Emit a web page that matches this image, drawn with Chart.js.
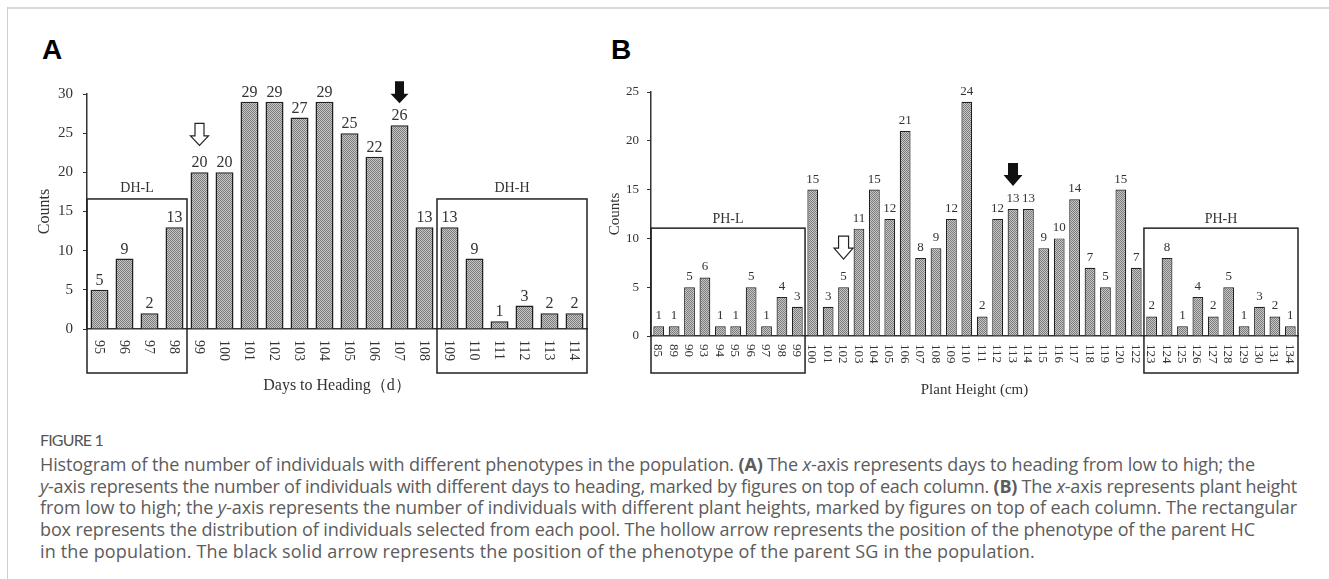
<!DOCTYPE html>
<html>
<head>
<meta charset="utf-8">
<script src="https://cdn.jsdelivr.net/npm/chart.js@4.4.1/dist/chart.umd.min.js"></script>
<style>
  html, body { margin: 0; padding: 0; background: #fff; }
  body { width: 1329px; height: 579px; position: relative; overflow: hidden; }
  canvas { position: absolute; top: 0; }
  #cA { left: 0; }
  #cB { left: 600px; }
  .bt { position: absolute; left: 7px; top: 7px; width: 1322px; height: 2px; background: #d9d9d9; }
  .bl { position: absolute; left: 7px; top: 7px; width: 1px; height: 572px; background: #cfcfcf; }
  .panel { position: absolute; font-family: "Liberation Sans", Arial, sans-serif; font-weight: bold; font-size: 28px; color: #000; line-height: 28px; }
  .cap { position: absolute; left: 40px; font-family: "Open Sans", "Noto Sans", sans-serif; color: #5c5c5c; white-space: nowrap; }
  .fig { font-family: Lato, "Open Sans", sans-serif; font-size: 16px; line-height: 20px; top: 430px; color: #555; }
  .ln { font-size: 18px; line-height: 22px; }
</style>
</head>
<body>
<div class="bt"></div>
<div class="bl"></div>
<div class="panel" style="left:42px; top:36px;">A</div>
<div class="panel" style="left:611px; top:36px;">B</div>
<canvas id="cA" width="600" height="400"></canvas>
<canvas id="cB" width="729" height="400"></canvas>
<div class="cap fig" data-w="63">FIGURE 1</div>
<div class="cap ln" data-w="1215" style="top:453px;">Histogram of the number of individuals with different phenotypes in the population. <b>(A)</b> The <i>x</i>-axis represents days to heading from low to high; the</div>
<div class="cap ln" data-w="1257" style="top:475px;"><i>y</i>-axis represents the number of individuals with different days to heading, marked by figures on top of each column. <b>(B)</b> The <i>x</i>-axis represents plant height</div>
<div class="cap ln" data-w="1257" style="top:496px;">from low to high; the <i>y</i>-axis represents the number of individuals with different plant heights, marked by figures on top of each column. The rectangular</div>
<div class="cap ln" data-w="1215" style="top:518px;">box represents the distribution of individuals selected from each pool. The hollow arrow represents the position of the phenotype of the parent HC</div>
<div class="cap ln" data-w="995" style="top:540px;">in the population. The black solid arrow represents the position of the phenotype of the parent SG in the population.</div>
<script>
// ---------- DATA ----------
const daysCategories = ['95','96','97','98','99','100','101','102','103','104','105','106','107','108','109','110','111','112','113','114'];
const daysCounts     = [5, 9, 2, 13, 20, 20, 29, 29, 27, 29, 25, 22, 26, 13, 13, 9, 1, 3, 2, 2];
const daysYMax = 30, daysYStep = 5;
const daysBoxes  = [ { label: 'DH-L', from: '95', to: '98', top: 16.6 }, { label: 'DH-H', from: '109', to: '114', top: 16.6 } ];
const daysArrows = [ { at: '99', kind: 'hollow' }, { at: '107', kind: 'solid' } ];

const heightCategories = ['85','89','90','93','94','95','96','97','98','99','100','101','102','103','104','105','106','107','108','109','110','111','112','113','114','115','116','117','118','119','120','122','123','124','125','126','127','128','129','130','131','134'];
const heightCounts     = [1, 1, 5, 6, 1, 1, 5, 1, 4, 3, 15, 3, 5, 11, 15, 12, 21, 8, 9, 12, 24, 2, 12, 13, 13, 9, 10, 14, 7, 5, 15, 7, 2, 8, 1, 4, 2, 5, 1, 3, 2, 1];
const heightYMax = 25, heightYStep = 5;
const heightBoxes  = [ { label: 'PH-L', from: '85', to: '99', top: 11.05 }, { label: 'PH-H', from: '123', to: '134', top: 11.05 } ];
const heightArrows = [ { at: '102', kind: 'hollow' }, { at: '113', kind: 'solid' } ];

// ---------- STYLE ----------
const SERIF = '"Liberation Serif", "Times New Roman", serif';
const TXT = '#333';
function stipple() {
  const c = document.createElement('canvas'); c.width = 2; c.height = 2;
  const g = c.getContext('2d');
  g.fillStyle = '#c6c6c6'; g.fillRect(0,0,2,2);
  g.fillStyle = '#7c7c7c'; g.fillRect(0,0,1,1); g.fillRect(1,1,1,1);
  return g.createPattern(c, 'repeat');
}

function annot(cfg) {
  return {
    id: 'annot',
    afterDraw(chart) {
      const { ctx, chartArea, scales: { x, y } } = chart;
      const labels = x.getLabels();
      const w = x.getPixelForValue(1) - x.getPixelForValue(0);
      const bars = chart.getDatasetMeta(0).data;
      const vals = chart.data.datasets[0].data;
      ctx.save();
      ctx.fillStyle = TXT;
      // rotated category labels (reading top to bottom)
      ctx.font = cfg.tickFont + 'px ' + SERIF;
      ctx.textAlign = 'left'; ctx.textBaseline = 'middle';
      labels.forEach((lab, i) => {
        ctx.save();
        ctx.translate(x.getPixelForValue(i), chartArea.bottom + cfg.tickGap);
        ctx.rotate(Math.PI / 2);
        ctx.fillText(lab, 0, 1);
        ctx.restore();
      });
      // value labels
      ctx.font = cfg.valFont + 'px ' + SERIF;
      ctx.textAlign = 'center'; ctx.textBaseline = 'alphabetic';
      bars.forEach((b, i) => ctx.fillText(String(vals[i]), b.x, b.y - cfg.valGap));
      // boxes
      ctx.strokeStyle = '#222'; ctx.lineWidth = 1.5;
      ctx.font = cfg.boxFont + 'px ' + SERIF; ctx.textBaseline = 'middle';
      cfg.boxes.forEach(bx => {
        const l = x.getPixelForValue(labels.indexOf(bx.from)) - w / 2;
        const r = x.getPixelForValue(labels.indexOf(bx.to)) + w / 2;
        const t = y.getPixelForValue(bx.top);
        const btm = chartArea.bottom + cfg.boxDrop;
        ctx.strokeRect(l, t, r - l, btm - t);
        ctx.fillText(bx.label, (l + r) / 2, t - cfg.boxLabelGap);
      });
      // arrows
      cfg.arrows.forEach(a => {
        const i = labels.indexOf(a.at);
        const b = bars[i];
        const g = a.kind === 'hollow' ? cfg.gapHollow : cfg.gapSolid;
        const tip = b.y - g;
        const H = cfg.arrowH, hh = cfg.headH, sw = cfg.shaftW / 2, hw = cfg.headW / 2;
        const cx = b.x;
        ctx.beginPath();
        ctx.moveTo(cx - sw, tip - H);
        ctx.lineTo(cx + sw, tip - H);
        ctx.lineTo(cx + sw, tip - hh);
        ctx.lineTo(cx + hw, tip - hh);
        ctx.lineTo(cx, tip);
        ctx.lineTo(cx - hw, tip - hh);
        ctx.lineTo(cx - sw, tip - hh);
        ctx.closePath();
        if (a.kind === 'hollow') {
          ctx.fillStyle = '#fff'; ctx.fill();
          ctx.lineWidth = 1.2; ctx.strokeStyle = '#222'; ctx.stroke();
        } else {
          ctx.fillStyle = '#111'; ctx.fill();
        }
      });
      ctx.restore();
    }
  };
}

function makeChart(id, cats, counts, yMax, yStep, L) {
  return new Chart(document.getElementById(id), {
    type: 'bar',
    data: { labels: cats, datasets: [{ data: counts, backgroundColor: stipple(), borderColor: '#222', borderWidth: L.barBorder, categoryPercentage: 1, barPercentage: L.barPct }] },
    options: {
      responsive: false, animation: false, devicePixelRatio: 1,
      layout: { padding: { left: 0, top: L.padTop, right: L.padRight, bottom: 0 } },
      plugins: { legend: { display: false }, tooltip: { enabled: false } },
      scales: {
        x: {
          type: 'category', offset: true,
          grid: { display: false },
          border: { display: true, color: '#333', width: 1.5 },
          ticks: { display: false },
          title: { display: true, text: L.xTitle, color: TXT, font: { family: SERIF, size: L.xTitleSize }, padding: { top: 0, bottom: L.xTitlePad } },
          afterFit: s => { s.height = L.xHeight; }
        },
        y: {
          min: 0, max: yMax,
          grid: { display: true, drawOnChartArea: false, drawTicks: true, tickLength: 4, color: '#333', lineWidth: 1 },
          border: { display: true, color: '#333', width: 1.5 },
          ticks: { stepSize: yStep, color: TXT, padding: L.yTickPad, font: { family: SERIF, size: L.yTickSize } },
          title: { display: true, text: 'Counts', color: TXT, font: { family: SERIF, size: L.yTitleSize }, padding: { top: L.yTitlePad, bottom: 0 } },
          afterFit: s => { s.width = L.yWidth; }
        }
      }
    },
    plugins: [annot(L.annot)]
  });
}

makeChart('cA', daysCategories, daysCounts, daysYMax, daysYStep, {
  barBorder: 1.5, barPct: 0.72, padTop: 94, padRight: 13, xHeight: 71, yWidth: 87,
  xTitle: 'Days to Heading（d）', xTitleSize: 16, xTitlePad: 5,
  yTickPad: 10, yTickSize: 15, yTitleSize: 16, yTitlePad: 35,
  annot: { tickFont: 14, tickGap: 11, valFont: 16, valGap: 5, boxFont: 14, boxLabelGap: 11, boxDrop: 44,
           boxes: daysBoxes, arrows: daysArrows, gapHollow: 27, gapSolid: 22,
           arrowH: 22, headH: 9.5, shaftW: 9, headW: 18 }
});

makeChart('cB', heightCategories, heightCounts, heightYMax, heightYStep, {
  barBorder: 1.2, barPct: 0.7, padTop: 92, padRight: 31, xHeight: 64, yWidth: 51,
  xTitle: 'Plant Height (cm)', xTitleSize: 15, xTitlePad: 1,
  yTickPad: 8, yTickSize: 13, yTitleSize: 15, yTitlePad: 6,
  annot: { tickFont: 13, tickGap: 8, valFont: 13, valGap: 7, boxFont: 14, boxLabelGap: 9, boxDrop: 37,
           boxes: heightBoxes, arrows: heightArrows, gapHollow: 28, gapSolid: 23,
           arrowH: 23, headH: 11, shaftW: 10, headW: 19 }
});

// fit caption lines to their measured widths in the reference
document.querySelectorAll('.cap').forEach(el => {
  const target = +el.dataset.w;
  const nat = el.getBoundingClientRect().width;
  const n = el.textContent.length;
  el.style.letterSpacing = ((target - nat) / n).toFixed(3) + 'px';
});
</script>
</body>
</html>
